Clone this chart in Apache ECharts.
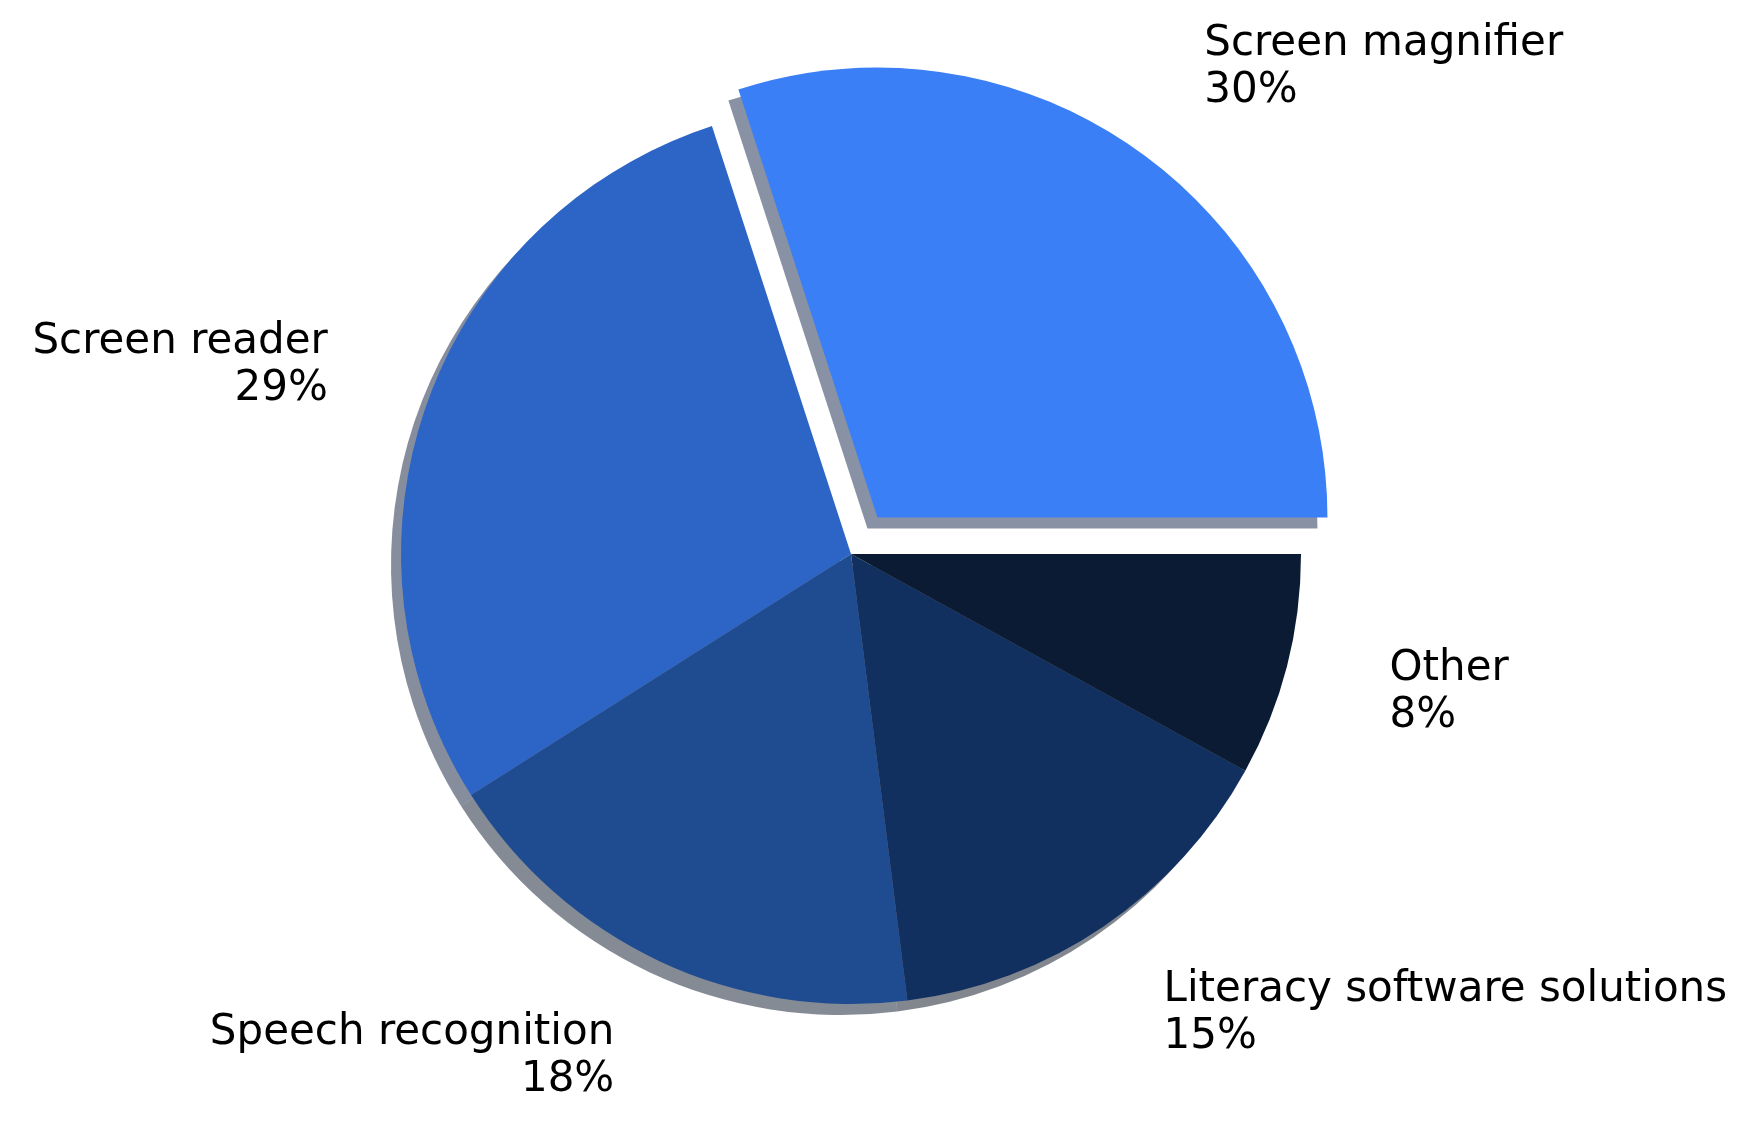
<!DOCTYPE html>
<html><head><meta charset="utf-8">
<script src="https://cdn.jsdelivr.net/npm/echarts@6/dist/echarts.min.js"></script>
<style>html,body{margin:0;padding:0;background:#fff}#c{width:1764px;height:1144px}</style>
</head><body><div id="c"></div>
<script>
const categories = ['Screen magnifier', 'Screen reader', 'Speech recognition', 'Literacy software solutions', 'Other'];
const shares = [30, 29, 18, 15, 8];
const colors = ['#3A7FF6', '#2D65C7', '#1F4C91', '#12305F', '#0A1B33'];
const exploded = [true, false, false, false, false];

function shade(hex, f) {
  const n = parseInt(hex.slice(1), 16);
  const r = Math.round(((n >> 16) & 255) * f), g = Math.round(((n >> 8) & 255) * f), b = Math.round((n & 255) * f);
  return 'rgb(' + r + ',' + g + ',' + b + ')';
}

const chart = echarts.init(document.getElementById('c'), null, { renderer: 'canvas' });
const CX = 851, CY = 554, R = 450, OFF = 45, SH = [-10, 11];

const mainData = categories.map((n, i) => ({
  name: n, value: shares[i], selected: exploded[i],
  itemStyle: { color: colors[i] }
}));
const shadowData = categories.map((n, i) => ({
  name: n, value: shares[i], selected: exploded[i],
  itemStyle: { color: shade(colors[i], 0.3), opacity: 0.5 }
}));

chart.setOption({
  animation: false,
  backgroundColor: '#ffffff',
  series: [
    {
      type: 'pie', z: 1, silent: true,
      center: [CX + SH[0], CY + SH[1]], radius: R,
      startAngle: 0, clockwise: false,
      selectedMode: 'single', selectedOffset: OFF,
      avoidLabelOverlap: false,
      label: { show: false }, labelLine: { show: false },
      emphasis: { disabled: true },
      select: { itemStyle: { borderWidth: 0 } },
      data: shadowData
    },
    {
      type: 'pie', z: 2, silent: true,
      center: [CX, CY], radius: R,
      startAngle: 0, clockwise: false,
      selectedMode: 'single', selectedOffset: OFF,
      avoidLabelOverlap: false,
      itemStyle: { borderWidth: 0 },
      emphasis: { disabled: true },
      select: { itemStyle: { borderWidth: 0 } },
      label: {
        show: true, position: 'outside', alignTo: 'none',
        distanceToLabelLine: 0,
        formatter: '{b}\n{c}%',
        fontFamily: 'DejaVu Sans', fontSize: 42, lineHeight: 47, color: '#000000'
      },
      labelLine: { show: false, length: 106, length2: 0 },
      data: mainData
    }
  ]
});
</script>
</body></html>
